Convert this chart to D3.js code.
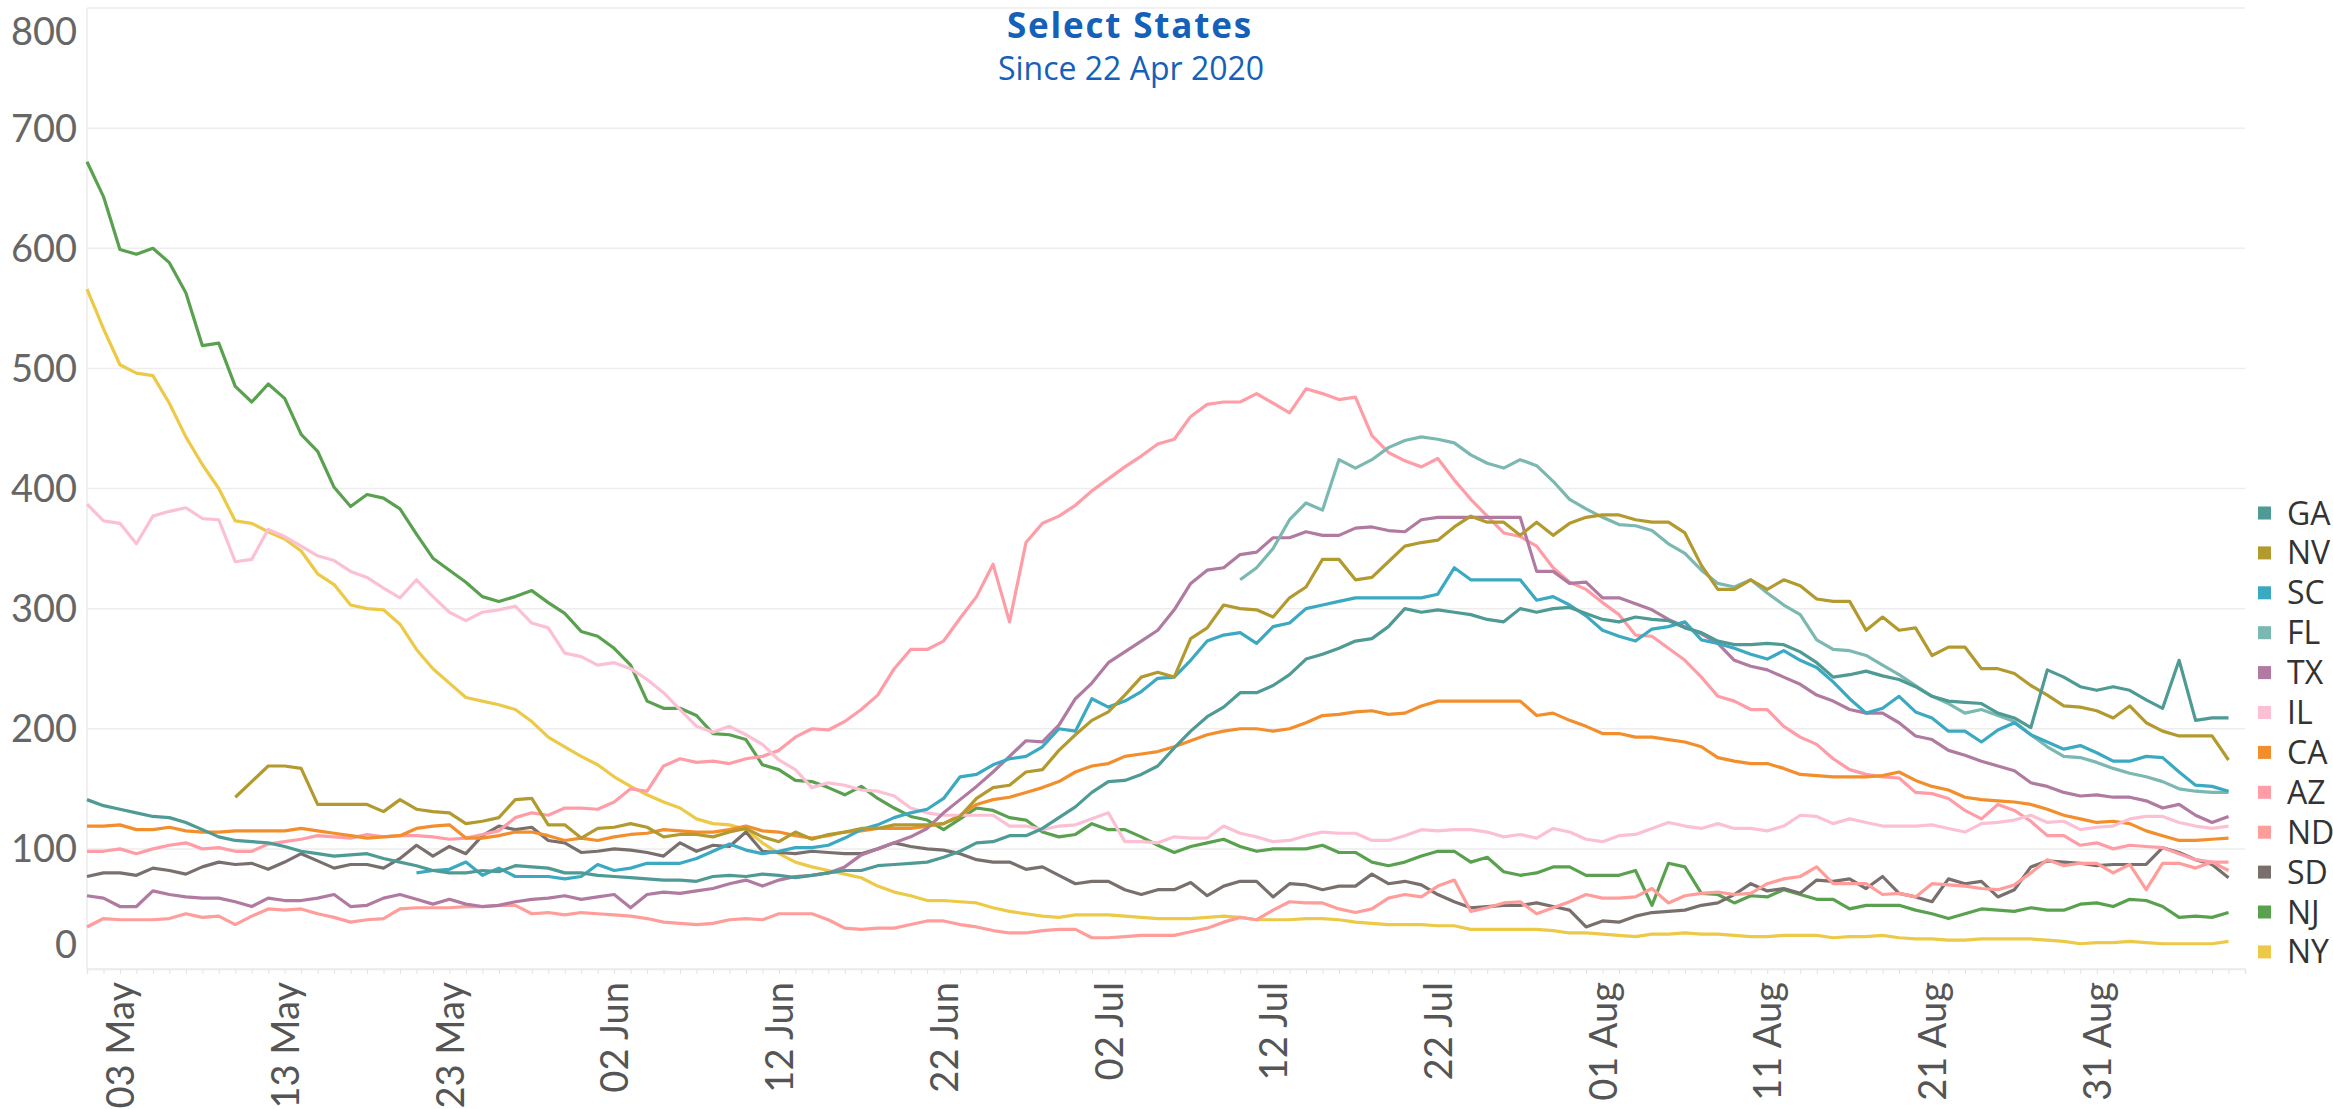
<!DOCTYPE html>
<html>
<head>
<meta charset="utf-8">
<script src="https://cdn.jsdelivr.net/npm/d3@7"></script>
<style>
  body { margin: 0; background: #fff; }
  svg { display: block; }
</style>
</head>
<body>
<svg id="chart" width="2333" height="1109"></svg>
<script>
// legend order, colours and the day index (0 = 01 May) where each series starts
const states = ["GA", "NV", "SC", "FL", "TX", "IL", "CA", "AZ", "ND", "SD", "NJ", "NY"];
const colors = ["#4e9a95", "#b39a2f", "#3aa9c1", "#7bb8b1", "#b07aa1", "#fbc0d4",
                "#f28e2b", "#ff9da7", "#ff9d9a", "#79706e", "#59a14f", "#edc948"];
const firstDay = [0, 9, 20, 70, 0, 0, 0, 0, 0, 0, 0, 0];

const startDate = "2020-05-01";
const endDate = "2020-09-09";
const tickLabels = ["03 May", "13 May", "23 May", "02 Jun", "12 Jun", "22 Jun", "02 Jul",
                    "12 Jul", "22 Jul", "01 Aug", "11 Aug", "21 Aug", "31 Aug"];
const yTicks = [0, 100, 200, 300, 400, 500, 600, 700, 800];

const GA = [141,136,133,130,127,126,122,116,110,107,106,
  105,102,98,96,94,95,96,92,89,86, 82,80,80,82,81,86,85,84,80,80,
  78,77,76,75,74,74,73,77,78,77, 79,78,76,78,80,82,82,86,87,88,
  89,93,98,105,106,111,111,117,126,135, 147,156,157,162,169,184,198,210,218,230,
  230,236,245,258,262,267,273,275,285,300, 297,299,297,295,291,289,300,297,300,301,
  296,291,289,293,291,290,284,280,273,270, 270,271,270,264,255,243,245,248,244,241,
  235,227,223,222,221,213,209,201,249,243, 235,232,235,232,224,217,257,207,209,209];
const NV = [143,156,
  169,169,167,137,137,137,137,131,141,133, 131,130,121,123,126,141,142,120,120,109,
  117,118,121,118,110,112,112,110,114,117, 110,106,114,108,112,114,117,117,120,120,
  120,121,127,142,151,153,164,166,182,195, 207,214,228,243,247,243,275,284,303,300,
  299,293,309,318,341,341,324,326,339,352, 355,357,368,377,372,372,361,372,361,371,
  376,378,378,374,372,372,363,336,316,316, 324,316,324,319,308,306,306,282,293,282,
  284,261,268,268,250,250,246,236,228,219, 218,215,209,219,205,198,194,194,194,174];
const SC = [80,
  82,83,89,78,84,77,77,77,75,77, 87,82,84,88,88,88,92,98,104,99,
  96,98,101,101,103,109,116,120,126,130, 133,142,160,162,170,175,177,185,200,198,
  225,218,223,231,242,243,257,273,278,280, 271,285,288,300,303,306,309,309,309,309,
  309,312,334,324,324,324,324,307,310,303, 294,282,277,273,283,285,289,274,271,267,
  262,258,265,257,251,239,225,213,217,227, 214,209,198,198,189,199,205,195,189,183,
  186,180,173,173,177,176,164,153,152,148];
const FL = [324,
  334,350,374,388,382,424,417,424,434,440, 443,441,438,428,421,417,424,419,406,391,
  383,376,370,369,365,354,346,332,321,318, 324,313,303,295,274,266,265,261,253,245,
  236,227,221,213,216,211,206,195,185,177, 176,172,167,163,160,156,150,148,147,147];
const TX = [61,59,52,52,65,62,60,59,59,56,52,
  59,57,57,59,62,52,53,59,62,58, 54,58,54,52,53,56,58,59,61,58,
  60,62,51,62,64,63,65,67,71,74, 69,74,77,78,80,85,95,100,105,110,
  117,130,141,152,164,177,190,189,203,225, 238,255,264,273,282,299,321,332,334,345,
  347,359,359,364,361,361,367,368,365,364, 374,376,376,376,376,376,376,331,331,321,
  322,309,309,304,299,291,285,279,271,257, 252,249,243,237,228,223,216,213,213,205,
  194,191,182,178,173,169,165,155,152,147, 144,145,143,143,140,134,137,128,122,127];
const IL = [387,373,371,354,377,381,384,375,374,339,341,
  366,360,352,344,340,331,326,317,309,324, 310,297,290,297,299,302,288,284,263,260,
  253,255,250,241,230,216,202,197,202,195, 187,174,166,151,155,153,149,148,144,134,
  130,128,128,128,128,119,119,116,119,120, 125,130,106,106,105,110,109,109,119,113,
  110,106,107,111,114,113,113,107,107,111, 116,115,116,116,114,110,112,109,117,114,
  108,106,111,112,117,122,119,117,121,117, 117,115,119,128,127,121,125,122,119,119,
  119,120,117,114,121,122,124,128,122,123, 116,118,119,125,127,127,122,119,117,119];
const CA = [119,119,120,116,116,118,115,114,114,115,115,
  115,115,117,115,113,111,109,110,111,117, 119,120,109,109,111,114,114,111,107,109,
  107,110,112,113,116,115,114,114,116,119, 115,114,111,109,111,114,115,117,117,117,
  119,121,128,137,141,143,147,151,156,164, 169,171,177,179,181,185,190,195,198,200,
  200,198,200,205,211,212,214,215,212,213, 219,223,223,223,223,223,223,211,213,207,
  202,196,196,193,193,191,189,185,176,173, 171,171,167,162,161,160,160,160,161,164,
  157,152,149,143,141,140,139,137,133,128, 125,122,123,121,115,111,107,107,108,109];
const AZ = [98,98,100,96,100,103,105,100,101,98,98,
  104,106,108,111,110,109,112,110,111,111, 110,108,109,112,115,126,130,128,134,134,
  133,139,150,148,169,175,172,173,171,175, 177,182,193,200,199,206,216,228,250,266,
  266,273,292,310,337,289,355,371,377,386, 398,408,418,427,437,441,460,470,472,472,
  479,471,463,483,479,474,476,444,430,423, 418,425,407,391,377,363,360,352,334,322,
  316,305,295,278,277,267,257,243,227,223, 216,216,202,193,187,175,166,162,160,159,
  147,146,142,132,125,137,132,123,111,111, 103,105,100,103,102,101,96,91,89,89];
const ND = [35,42,41,41,41,42,46,43,44,37,44,
  50,49,50,46,43,39,41,42,50,51, 51,51,52,52,53,53,46,47,45,47,
  46,45,44,42,39,38,37,38,41,42, 41,46,46,46,41,34,33,34,34,37,
  40,40,37,35,32,30,30,32,33,33, 26,26,27,28,28,28,31,34,39,43,
  41,49,56,55,55,50,47,50,59,62, 60,69,74,48,51,55,56,46,51,56,
  62,59,59,60,67,55,61,63,64,62, 63,71,75,77,85,71,71,71,62,63,
  60,71,70,69,67,66,70,80,91,86, 88,88,80,87,66,88,88,84,89,82];
const SD = [77,80,80,78,84,82,79,85,89,87,88,
  83,89,96,90,84,87,87,84,92,103, 94,102,96,111,119,116,118,107,105,97,
  98,100,99,97,94,105,98,103,102,114, 98,97,96,98,97,96,96,100,105,102,
  100,99,96,91,89,89,83,85,78,71, 73,73,66,62,66,66,72,61,69,73,
  73,60,71,70,66,69,69,79,71,73, 70,62,56,51,52,53,53,55,52,49,
  35,40,39,44,47,48,49,53,55,62, 71,65,67,63,74,73,75,67,77,63,
  60,56,75,71,73,60,66,85,90,89, 88,86,87,87,87,101,97,91,87,76];
const NJ = [672,643,599,595,600,588,563,519,521,485,472,
  487,475,445,431,401,385,395,392,383,362, 342,332,322,310,306,310,315,305,296,281,
  277,267,253,223,217,217,211,196,195,191, 170,166,157,156,151,145,152,142,134,127,
  124,116,125,134,132,126,124,114,110,112, 121,116,116,110,103,97,102,105,108,102,
  98,100,100,100,103,97,97,89,86,89, 94,98,98,89,93,81,78,80,85,85,
  78,78,78,82,53,88,85,63,62,55, 61,60,66,62,58,58,50,53,53,53,
  49,46,42,46,50,49,48,51,49,49, 54,55,52,58,57,52,43,44,43,47];
const NY = [566,533,503,496,494,471,443,420,400,373,371,
  364,358,348,329,320,303,300,299,287,266, 250,238,226,223,220,216,206,193,185,177,
  170,160,152,145,139,134,125,121,120,116, 105,96,89,85,82,79,76,69,64,61,
  57,57,56,55,51,48,46,44,43,45, 45,45,44,43,42,42,42,43,44,43,
  41,41,41,42,42,41,39,38,37,37, 37,36,36,33,33,33,33,33,32,30,
  30,29,28,27,29,29,30,29,29,28, 27,27,28,28,28,26,27,27,28,26,
  25,25,24,24,25,25,25,25,24,23, 21,22,22,23,22,21,21,21,21,23];

const valuesByState = { GA, NV, SC, FL, TX, IL, CA, AZ, ND, SD, NJ, NY };

const parse = d3.utcParse("%Y-%m-%d");
const t0 = parse(startDate);
const series = states.map((s, k) => ({
  name: s,
  color: colors[k],
  points: valuesByState[s].map((v, i) => ({ date: d3.utcDay.offset(t0, firstDay[k] + i), v: v }))
}));

const svg = d3.select("#chart");
const x = d3.scaleUtc().domain([t0, parse(endDate)]).range([87, 2245]);
const y = d3.scaleLinear().domain([0, 800]).range([969, 8]);

const axisFont = "Lato, 'Open Sans', sans-serif";
const titleFont = "'Open Sans', sans-serif";

// horizontal gridlines
svg.append("g")
  .selectAll("line")
  .data(yTicks)
  .join("line")
  .attr("x1", x.range()[0]).attr("x2", x.range()[1])
  .attr("y1", d => y(d)).attr("y2", d => y(d))
  .attr("stroke", "#ededed").attr("stroke-width", 1.5);

// left axis line
svg.append("line")
  .attr("x1", x.range()[0]).attr("x2", x.range()[0])
  .attr("y1", y(800)).attr("y2", y(0))
  .attr("stroke", "#ebebeb").attr("stroke-width", 1.5);

// y axis labels (end labels pulled inside like the original)
const yAxis = svg.append("g")
  .attr("transform", `translate(${x.range()[0]},0)`)
  .call(d3.axisLeft(y).tickValues(yTicks).tickSize(0).tickPadding(10));
yAxis.select(".domain").remove();
yAxis.selectAll("text")
  .attr("font-family", axisFont)
  .attr("font-size", 38)
  .attr("fill", "#666")
  .attr("dy", d => d === 800 ? "0.95em" : d === 0 ? "-0.3em" : "0.34em");

// daily minor ticks
const minor = svg.append("g")
  .attr("transform", `translate(0,${y(0)})`)
  .call(d3.axisBottom(x).ticks(d3.utcDay.every(1)).tickSize(5).tickFormat(""));
minor.select(".domain").attr("stroke", "#ebebeb").attr("stroke-width", 1.5);
minor.selectAll(".tick line").attr("stroke", "#e3e3e3");

// date labels
const fmtIn = d3.utcParse("%d %b %Y");
const tickDates = tickLabels.map(t => fmtIn(t + " 2020"));
const xAxis = svg.append("g")
  .attr("transform", `translate(0,${y(0)})`)
  .call(d3.axisBottom(x).tickValues(tickDates).tickSize(0).tickFormat(d3.utcFormat("%d %b")));
xAxis.select(".domain").remove();
xAxis.selectAll("text")
  .attr("font-family", axisFont)
  .attr("font-size", 38)
  .attr("fill", "#555")
  .attr("transform", "rotate(-90)")
  .attr("text-anchor", "end")
  .attr("x", -13)
  .attr("y", 0)
  .attr("dy", "0.36em");

// lines
const line = d3.line()
  .defined(d => d.v != null)
  .x(d => x(d.date))
  .y(d => y(d.v));

svg.append("g")
  .selectAll("path")
  .data(series.slice().reverse())
  .join("path")
  .attr("d", d => line(d.points))
  .attr("fill", "none")
  .attr("stroke", d => d.color)
  .attr("stroke-width", 3.2)
  .attr("stroke-linejoin", "round");

// title
svg.append("text")
  .attr("x", 1130).attr("y", 38)
  .attr("text-anchor", "middle")
  .attr("font-family", titleFont)
  .attr("font-weight", "bold")
  .attr("font-size", 35)
  .attr("letter-spacing", 1.8)
  .attr("fill", "#1560b8")
  .text("Select States");
svg.append("text")
  .attr("x", 1131).attr("y", 80)
  .attr("text-anchor", "middle")
  .attr("font-family", titleFont)
  .attr("font-size", 32)
  .attr("fill", "#1560b8")
  .text("Since 22 Apr 2020");

// legend
const legend = svg.append("g")
  .selectAll("g")
  .data(series)
  .join("g")
  .attr("transform", (d, k) => `translate(2258,${513 + k * 39.9})`);
legend.append("rect")
  .attr("x", 0).attr("y", -6.5)
  .attr("width", 13).attr("height", 13)
  .attr("fill", d => d.color);
legend.append("text")
  .attr("x", 29).attr("y", 0)
  .attr("dy", "0.36em")
  .attr("font-family", "'Open Sans', sans-serif")
  .attr("font-size", 32)
  .attr("fill", "#333")
  .text(d => d.name);
</script>
</body>
</html>
